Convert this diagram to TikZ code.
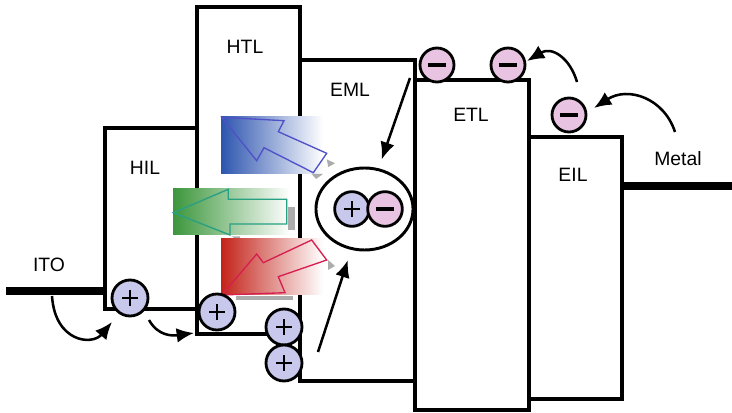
\documentclass[tikz,border=0pt]{standalone}
\usepackage{fontspec}
\setmainfont{Liberation Sans}
\usetikzlibrary{arrows.meta,shapes.geometric}

\definecolor{holefill}{RGB}{200,200,236}
\definecolor{elecfill}{RGB}{232,196,226}
\definecolor{blueem}{RGB}{45,85,175}
\definecolor{greenem}{RGB}{60,150,60}
\definecolor{redem}{RGB}{195,35,25}
\definecolor{blueline}{RGB}{80,80,200}
\definecolor{greenline}{RGB}{40,160,130}
\definecolor{redline}{RGB}{215,30,80}

\begin{document}
\begin{tikzpicture}[
  x=0.75pt, y=-0.75pt,
  layer/.style={line width=2.3pt, line join=miter},
  electrode/.style={line width=5.6pt},
  lbl/.style={font=\fontsize{14.5}{17}\selectfont, inner sep=0pt},
  hole/.style={circle, draw, line width=2.1pt, fill=holefill, minimum size=27pt, inner sep=0pt,
    path picture={
      \draw[line width=1.8pt] ([xshift=-5.8pt]path picture bounding box.center) -- ([xshift=5.8pt]path picture bounding box.center);
      \draw[line width=1.8pt] ([yshift=-5.8pt]path picture bounding box.center) -- ([yshift=5.8pt]path picture bounding box.center);}},
  elec/.style={circle, draw, line width=2.1pt, fill=elecfill, minimum size=25.5pt, inner sep=0pt,
    path picture={
      \draw[line width=2.6pt] ([xshift=-6.8pt]path picture bounding box.center) -- ([xshift=6.8pt]path picture bounding box.center);}},
  arr/.style={-{Latex[length=13pt,width=11pt]}, line width=1.9pt},
  shadowbit/.style={fill=gray!65, draw=none}
]
\useasboundingbox (0,0) rectangle (732,413);

% electrodes
\draw[electrode] (6,291) -- (105,291);
\draw[electrode] (622,186) -- (732,186);

% layers
\draw[layer] (105,128) rectangle (197,309);
\draw[layer] (197,7) rectangle (300,334);
\draw[layer] (300,60) rectangle (415,381);
\draw[layer] (415,80) rectangle (529,410);
\draw[layer] (529,137) rectangle (622,399);

\node[lbl] (ito) at (49,265) {ITO};
\node[lbl] (hil) at (145,168) {HIL};
\node[lbl] (htl) at (245,47) {HTL};
\node[lbl] (eml) at (350,90) {EML};
\node[lbl] (etl) at (471,115) {ETL};
\node[lbl] (eil) at (573,175) {EIL};
\node[lbl] (metal) at (678,158.5) {Metal};

% emitted light
\shade[left color=blueem, middle color=blueem!55, right color=white] (221,117) rectangle (323,174);
\draw[blueline, line width=1pt] (221.7,117.3) -- (284,120.7) -- (278.3,131.7) -- (326.7,153.3)
  -- (313.3,172.7) -- (264,147.7) -- (256.7,160.7) -- cycle;
\fill[shadowbit] (326.7,159.3) -- (335,163.3) -- (328.3,167) -- cycle;
\fill[shadowbit] (311.7,174) -- (323,174) -- (316,179) -- cycle;

\shade[left color=greenem, middle color=greenem!55, right color=white] (173,189) rectangle (290,235);
\draw[greenline, line width=1pt] (173.3,212.7) -- (228.3,189.3) -- (228.3,199.3) -- (286.7,199.3)
  -- (286.7,224) -- (230,224) -- (230,235) -- cycle;
\fill[shadowbit] (287.7,207) rectangle (295,230);
\fill[shadowbit] (231.7,236.5) -- (240,236.5) -- (240,241.7) -- cycle;

\shade[left color=redem, middle color=redem!55, right color=white] (221,239) rectangle (323,295);
\draw[redline, line width=1pt] (221.7,295) -- (256.7,254) -- (263.3,262.7) -- (311.7,240)
  -- (326.7,260) -- (278.3,276.7) -- (285,292.7) -- cycle;
\fill[shadowbit] (328,260) -- (335,266) -- (328,270) -- cycle;
\fill[shadowbit] (236,296.5) rectangle (293,300);

% charges
\node[hole] (h1) at (130,298) {};
\node[hole] (h2) at (217,312) {};
\node[hole] (h3) at (284,327) {};
\node[hole] (h4) at (284,363) {};
\node[elec] (e1) at (437,65) {};
\node[elec] (e2) at (508,65) {};
\node[elec] (e3) at (569,115) {};

\node[draw, ellipse, line width=2.2pt, minimum width=72.8pt, minimum height=61.5pt] (exc) at (364.5,209) {};
\node[hole, minimum size=26pt] (xh) at (352,209) {};
\node[elec, minimum size=26pt] (xe) at (385,209) {};

% hops
\coordinate (itoDrop) at (52,296);
\coordinate (hilIn) at (112,322);
\coordinate (hilDrop) at (149,320);
\coordinate (htlIn) at (194,333);
\coordinate (holeUp) at (318,352);
\coordinate (elecDown) at (410,78);
\coordinate (eilUp) at (577,82);
\coordinate (etlIn) at (527,61);
\coordinate (metalUp) at (675,132);
\coordinate (eilIn) at (594,108);

\draw[arr] (itoDrop) .. controls (55,342) and (92,346) .. (hilIn);
\draw[arr] (hilDrop) .. controls (158,336) and (172,336) .. (htlIn);
\draw[arr, shorten >=8pt] (holeUp) -- (exc);
\draw[arr, shorten >=7pt] (elecDown) -- (exc);
\draw[arr] (eilUp) .. controls (570,58) and (552,46) .. (etlIn);
\draw[arr] (metalUp) .. controls (664,98) and (628,86) .. (eilIn);
\end{tikzpicture}
\end{document}
